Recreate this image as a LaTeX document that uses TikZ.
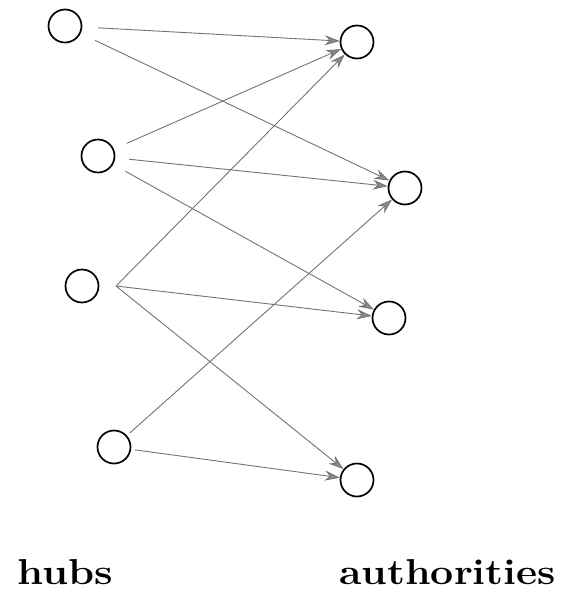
\documentclass[tikz,border=0pt]{standalone}
\usetikzlibrary{arrows.meta}
\begin{document}
\begin{tikzpicture}[x=1pt,y=-1pt,
  vert/.style={circle,draw=black,line width=1.7pt,minimum size=33pt,inner sep=0pt},
  edge/.style={draw=black!55,line width=0.9pt,-{Stealth[length=15pt,width=10pt,inset=5pt,fill=black!45]}},
  lbl/.style={font=\fontsize{36}{38}\selectfont\bfseries,anchor=base west,inner sep=0pt}]
\useasboundingbox (0,0) rectangle (572,595);
\node[vert] (h1) at (65,26) {};
\node[vert] (h2) at (98,156) {};
\node[vert] (h3) at (82,286) {};
\node[vert] (h4) at (114,447) {};
\node[vert] (a1) at (357,42) {};
\node[vert] (a2) at (405,188) {};
\node[vert] (a3) at (389,318) {};
\node[vert] (a4) at (357,480) {};
\coordinate (h3o) at (116,286);
\draw[edge,shorten <=16pt] (h1) -- (a1);
\draw[edge,shorten <=16pt] (h1) -- (a2);
\draw[edge,shorten <=14pt] (h2) -- (a1);
\draw[edge,shorten <=14pt] (h2) -- (a2);
\draw[edge,shorten <=14pt] (h2) -- (a3);
\draw[edge] (h3o) -- (a1);
\draw[edge] (h3o) -- (a3);
\draw[edge] (h3o) -- (a4);
\draw[edge,shorten <=4pt] (h4) -- (a2);
\draw[edge,shorten <=4pt] (h4) -- (a4);
\node[lbl] (hubs) at (17,584) {\scalebox{1.16}[1]{hubs}};
\node[lbl] (auth) at (339,584) {\scalebox{1.14}[1]{authorities}};
\end{tikzpicture}
\end{document}
